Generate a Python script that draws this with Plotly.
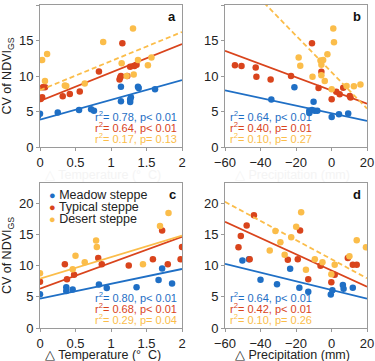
import plotly.graph_objects as go
from plotly.subplots import make_subplots

BLUE = "#1f6fc5"
RED = "#d9441c"
ORANGE = "#fbbd4a"

# panel a: delta temperature vs CV
a_meadow_x = [0.0, -0.03, 0.25, 0.55, 0.72, 0.76, 1.14, 1.14, 1.27, 1.27, 1.28, 1.38, 1.39, 1.62]
a_meadow_y = [4.7, 4.3, 4.85, 5.2, 5.3, 5.1, 8.47, 6.45, 6.35, 6.7, 7.0, 8.47, 8.3, 8.15]
a_typical_x = [-0.04, 0.01, 0.03, 0.04, 0.07, 0.32, 0.42, 0.56, 0.83, 1.12, 1.13, 1.14, 1.16, 1.23, 1.27, 1.33, 1.36]
a_typical_y = [6.8, 6.75, 7.0, 8.4, 8.4, 7.15, 7.45, 7.8, 10.65, 9.5, 9.8, 10.0, 14.6, 10.0, 11.3, 11.4, 11.6]
a_desert_x = [-0.04, 0.03, 0.1, 0.07, 0.35, 0.37, 0.63, 0.89, 1.15, 1.22, 1.32, 1.31, 1.38, 1.52, 1.57]
a_desert_y = [8.25, 12.25, 13.1, 9.3, 8.67, 8.6, 8.95, 14.8, 11.8, 10.0, 10.2, 16.7, 12.25, 11.5, 12.6]

# panel b: delta precipitation vs CV
b_meadow_x = [-33.9, -20.9, -10.1, -12.5, -12.5, -11.0, -9.5, -8.0, 0.1, 4.2, 9.4]
b_meadow_y = [6.7, 8.43, 6.36, 5.1, 4.8, 5.2, 5.1, 5.1, 4.24, 4.62, 4.72]
b_typical_x = [-54.4, -50.7, -42.7, -42.3, -34.3, -22.8, -11.0, -5.7, -7.3, 0.1, 2.7, 4.6, 6.6, 10.3, 10.7]
b_typical_y = [11.5, 11.4, 11.2, 9.9, 9.5, 10.0, 14.6, 10.6, 8.3, 6.74, 7.77, 7.44, 8.34, 7.2, 6.96]
b_desert_x = [1.0, 1.4, -18.5, -17.6, -2.3, -4.7, -5.7, -6.2, -10.7, -5.7, -3.8, 0.1, 8.5, 12.6, 16.3]
b_desert_y = [16.7, 14.75, 12.6, 11.45, 13.05, 12.25, 11.6, 12.2, 9.9, 10.1, 9.28, 8.15, 8.6, 8.57, 8.8]

# panel c: delta temperature vs CV
c_meadow_x = [0.0, 0.37, 0.37, 0.46, 0.83, 0.94, 1.36, 1.67, 1.72, 1.86]
c_meadow_y = [5.4, 6.5, 5.9, 6.15, 6.96, 6.4, 6.5, 7.66, 9.5, 7.1]
c_typical_x = [0.0, 0.35, 0.38, 0.48, 0.82, 0.87, 1.25, 1.59, 1.72, 1.8, 1.98, 2.0]
c_typical_y = [7.4, 10.2, 7.8, 8.5, 11.2, 10.2, 10.0, 11.0, 15.6, 10.2, 11.0, 12.95]
c_desert_x = [0.0, 0.46, 0.5, 0.63, 0.79, 0.8, 1.45, 1.69, 1.81]
c_desert_y = [8.74, 9.4, 11.55, 10.5, 14.0, 12.95, 10.2, 16.3, 18.4]

# panel d: delta precipitation vs CV
d_meadow_x = [-50.2, -46.5, -40.0, -30.7, -23.3, -18.1, -13.1, -0.4, 0.5, 6.4, 6.8, 12.0]
d_meadow_y = [10.8, 11.0, 7.7, 7.0, 9.46, 6.43, 5.8, 5.35, 6.05, 6.86, 6.27, 6.43]
d_typical_x = [-52.4, -51.1, -47.8, -46.1, -43.7, -24.6, -19.0, -17.7, -13.1, -6.2, -0.1, 1.8, 9.2, 12.0, 14.2]
d_typical_y = [12.9, 14.7, 16.4, 11.0, 18.05, 10.9, 11.0, 15.6, 7.78, 9.95, 7.3, 8.5, 11.2, 10.1, 10.1]
d_desert_x = [-34.8, -31.6, -28.8, -26.4, -22.7, -19.9, -17.1, -14.4, -9.4, -5.1, -0.1, 1.8, 10.1, 14.2, 19.4]
d_desert_y = [12.4, 15.5, 13.7, 11.7, 14.5, 16.2, 18.5, 9.3, 11.0, 10.5, 8.6, 10.1, 11.46, 14.05, 12.9]

# fitted lines (intercept, slope) for meadow, typical, desert
a_fits = [(3.85, 2.78), (6.5, 4.0), (8.0, 4.1)]
b_fits = [(4.75, -0.054), (7.96, -0.0931), (10.55, -0.257)]
c_fits = [(4.7, 2.37), (6.3, 4.15), (7.9, 3.45)]
d_fits = [(6.09, -0.0696), (9.2, -0.13), (11.01, -0.153)]

a_stats = ["r<sup>2</sup>= 0.78, p< 0.01", "r<sup>2</sup>= 0.64, p< 0.01", "r<sup>2</sup>= 0.17, p= 0.13"]
b_stats = ["r<sup>2</sup>= 0.64, p< 0.01", "r<sup>2</sup>= 0.40, p= 0.01", "r<sup>2</sup>= 0.10, p= 0.27"]
c_stats = ["r<sup>2</sup>= 0.80, p< 0.01", "r<sup>2</sup>= 0.68, p< 0.01", "r<sup>2</sup>= 0.29, p= 0.04"]
d_stats = ["r<sup>2</sup>= 0.64, p< 0.01", "r<sup>2</sup>= 0.42, p< 0.01", "r<sup>2</sup>= 0.10, p= 0.26"]

names = ["Meadow steppe", "Typical steppe", "Desert steppe"]
colors = [BLUE, RED, ORANGE]

panels = [
    dict(row=1, col=1, label="a", xr=[0, 2], yr=[0, 20], dashed=True,
         pts=[(a_meadow_x, a_meadow_y), (a_typical_x, a_typical_y), (a_desert_x, a_desert_y)], fits=a_fits, stats=a_stats),
    dict(row=1, col=2, label="b", xr=[-60, 20], yr=[0, 20], dashed=True,
         pts=[(b_meadow_x, b_meadow_y), (b_typical_x, b_typical_y), (b_desert_x, b_desert_y)], fits=b_fits, stats=b_stats),
    dict(row=2, col=1, label="c", xr=[0, 2], yr=[0, 23.2], dashed=False,
         pts=[(c_meadow_x, c_meadow_y), (c_typical_x, c_typical_y), (c_desert_x, c_desert_y)], fits=c_fits, stats=c_stats),
    dict(row=2, col=2, label="d", xr=[-60, 20], yr=[0, 23.2], dashed=True,
         pts=[(d_meadow_x, d_meadow_y), (d_typical_x, d_typical_y), (d_desert_x, d_desert_y)], fits=d_fits, stats=d_stats),
]

fig = make_subplots(rows=2, cols=2)

for p in panels:
    for i, ((xs, ys), (b0, m)) in enumerate(zip(p["pts"], p["fits"])):
        fig.add_trace(go.Scatter(
            x=xs, y=ys, mode="markers", name=names[i],
            marker=dict(color=colors[i], size=6.5),
            showlegend=False,
        ), row=p["row"], col=p["col"])
        lx = p["xr"]
        dash = "5px,3px" if (i == 2 and p["dashed"]) else "solid"
        fig.add_trace(go.Scatter(
            x=lx, y=[b0 + m * v for v in lx], mode="lines",
            line=dict(color=colors[i], width=1.8, dash=dash),
            showlegend=False, hoverinfo="skip",
        ), row=p["row"], col=p["col"])

# domains in paper fractions (375 x 361)
W, H = 375, 361
xdom = {1: [40 / W, 182 / W], 2: [225 / W, 367 / W]}
ydom = {1: [1 - 147 / H, 1 - 5 / H], 2: [1 - 328 / H, 1 - 183 / H]}
xtitle_y = {1: 1 - 175 / H, 2: 1 - 355 / H}

axis_style = dict(showline=True, linecolor="#9a9a9a", linewidth=1, mirror=True, automargin=False,
                  ticks="outside", ticklen=3, tickcolor="#9a9a9a", showgrid=False, zeroline=False,
                  tickfont=dict(size=13, color="#222"))

for k, p in enumerate(panels, start=1):
    xa = "xaxis" if k == 1 else f"xaxis{k}"
    ya = "yaxis" if k == 1 else f"yaxis{k}"
    temp = p["col"] == 1
    fig.layout[xa].update(axis_style, domain=xdom[p["col"]], range=p["xr"], dtick=0.5 if temp else 20)
    fig.layout[ya].update(axis_style, domain=ydom[p["row"]], range=p["yr"], tickvals=[0, 5, 10, 15, 20])
    if temp:
        fig.layout[ya].title = dict(text="CV of NDVI<sub>GS</sub>", font=dict(size=12.5, color="#222"), standoff=6)

    xref = "x domain" if k == 1 else f"x{k} domain"
    yref = "y domain" if k == 1 else f"y{k} domain"

    # x titles (top-row ones are printed nearly white in the source)
    xtitle = "\u25b3 Temperature (\u00b0  C)" if temp else "\u25b3 Precipitation (mm)"
    fig.add_annotation(x=sum(xdom[p["col"]]) / 2 - (0.02 if temp else 0.01), y=xtitle_y[p["row"]],
                       xref="paper", yref="paper", text=xtitle, showarrow=False,
                       xanchor="center", yanchor="middle",
                       font=dict(size=12.5, color="#222" if p["row"] == 2 else "#f4f4f4"))

    fig.add_annotation(x=0.97, y=0.92, xref=xref, yref=yref, text=f"<b>{p['label']}</b>",
                       showarrow=False, xanchor="right", yanchor="middle", font=dict(size=13, color="#111"))

    # stats text
    for i, s in enumerate(p["stats"]):
        fig.add_annotation(x=0.98 if temp else 0.02, y=0.215 - i * 0.075, xref=xref, yref=yref, text=s,
                           showarrow=False, xanchor="right" if temp else "left", yanchor="middle",
                           font=dict(size=11, color=colors[i]))

# legend drawn inside panel c
for i, n in enumerate(names):
    fig.add_annotation(x=47 / W, y=1 - (195 + 12 * i) / H, xref="paper", yref="paper",
                       text=f"<span style='color:{colors[i]};font-size:11px'>\u25cf</span> {n}",
                       showarrow=False, xanchor="left", yanchor="middle", font=dict(size=12.5, color="#222"))

fig.update_layout(
    width=W, height=H, margin=dict(l=0, r=0, t=0, b=0),
    paper_bgcolor="white", plot_bgcolor="white",
    font=dict(family="Liberation Sans, Arial, sans-serif"),
    showlegend=False,
)

fig.write_html("out.html", config={"displayModeBar": False},
               post_script="document.body.style.margin='0';document.body.style.overflow='hidden';")
